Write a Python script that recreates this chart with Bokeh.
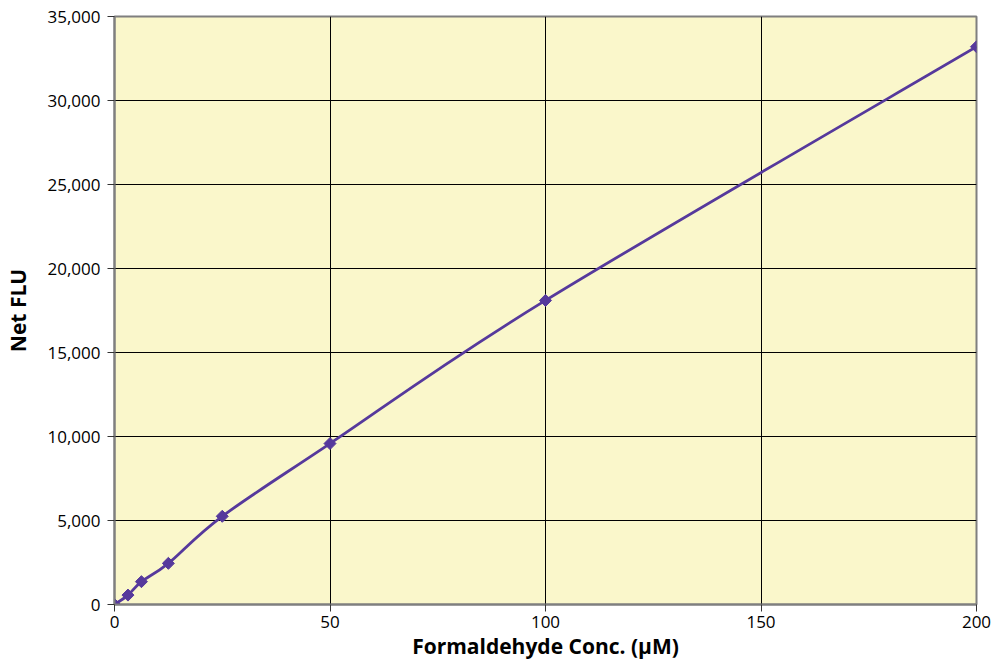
import numpy as np
from bokeh.plotting import figure
from bokeh.models import Range1d, NumeralTickFormatter, FixedTicker
from bokeh.embed import file_html
from bokeh.resources import INLINE

# Data
conc_uM = [0, 3.125, 6.25, 12.5, 25, 50, 100, 200]
net_flu = [0, 560, 1360, 2450, 5250, 9580, 18100, 33200]

x_ticks = [0, 50, 100, 150, 200]
y_ticks = [0, 5000, 10000, 15000, 20000, 25000, 30000, 35000]

FONT = "Open Sans"
LINE = "#56399C"

p = figure(
    frame_width=862, frame_height=588,
    min_border_left=114, min_border_top=16, min_border_right=20, min_border_bottom=30,
    output_backend="svg", toolbar_location=None,
    x_range=Range1d(0, 200), y_range=Range1d(0, 35000),
)
p.background_fill_color = "#FAF7CB"
p.border_fill_color = "white"
p.outline_line_color = "#7F7F7F"
p.outline_line_width = 2

for ax in (p.xaxis[0], p.yaxis[0]):
    ax.axis_line_color = "#7F7F7F"
    ax.axis_line_width = 2
    ax.major_tick_line_color = "#333333"
    ax.major_tick_out = 7
    ax.major_tick_in = 0
    ax.minor_tick_line_color = None
    ax.major_label_text_font = FONT
    ax.major_label_text_font_size = "17px"
    ax.major_label_text_color = "black"
    ax.axis_label_text_font = FONT
    ax.axis_label_text_font_style = "bold"
    ax.axis_label_text_font_size = "21px"
    ax.axis_label_text_color = "black"

p.xaxis.ticker = FixedTicker(ticks=x_ticks)
p.yaxis.ticker = FixedTicker(ticks=y_ticks)
p.yaxis.formatter = NumeralTickFormatter(format="0,0")
p.xaxis.axis_label = "Formaldehyde Conc. (µM)"
p.yaxis.axis_label = "Net FLU"
p.xaxis.major_label_standoff = 4
p.yaxis.major_label_standoff = 7
p.xaxis.axis_label_standoff = 1
p.yaxis.axis_label_standoff = 12

p.xgrid.ticker = FixedTicker(ticks=x_ticks)
p.ygrid.ticker = FixedTicker(ticks=y_ticks)
p.grid.grid_line_color = "black"
p.grid.grid_line_width = 1
p.grid.grid_line_alpha = 1.0

# Smoothed line (Catmull-Rom segments rendered as cubic Beziers)
xs = np.array(conc_uM, dtype=float)
ys = np.array(net_flu, dtype=float)
n = len(xs)
x0, y0, x1, y1, cx0, cy0, cx1, cy1 = [], [], [], [], [], [], [], []
for i in range(n - 1):
    im = max(i - 1, 0)
    ip2 = min(i + 2, n - 1)
    x0.append(xs[i]); y0.append(ys[i])
    x1.append(xs[i + 1]); y1.append(ys[i + 1])
    cx0.append(xs[i] + (xs[i + 1] - xs[im]) / 6.0)
    cy0.append(ys[i] + (ys[i + 1] - ys[im]) / 6.0)
    cx1.append(xs[i + 1] - (xs[ip2] - xs[i]) / 6.0)
    cy1.append(ys[i + 1] - (ys[ip2] - ys[i]) / 6.0)
p.bezier(x0=x0, y0=y0, x1=x1, y1=y1, cx0=cx0, cy0=cy0, cx1=cx1, cy1=cy1,
         line_color=LINE, line_width=2.8)

p.scatter(conc_uM, net_flu, marker="square", angle=np.pi / 4, size=8.5,
          fill_color=LINE, line_color=LINE)

open("out.html", "w").write(file_html(p, INLINE))
